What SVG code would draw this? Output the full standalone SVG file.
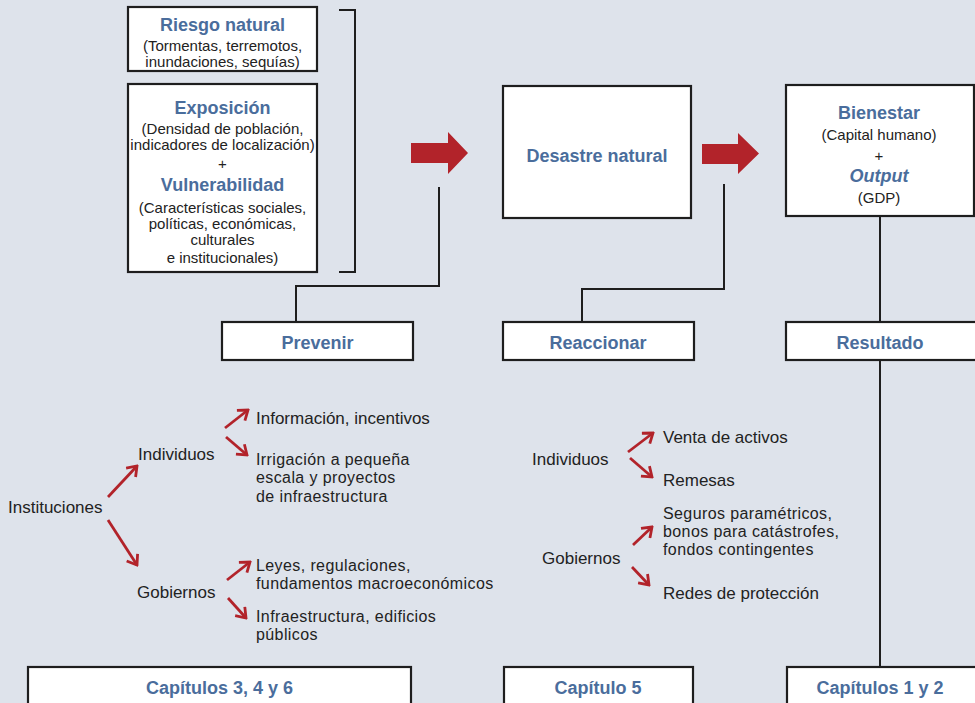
<svg xmlns="http://www.w3.org/2000/svg" width="975" height="703" viewBox="0 0 975 703">
<defs>
<style>
.bg{fill:#dee3eb}
.box{fill:#fff;stroke:#1e1e1e;stroke-width:2.2}
.t{font-family:"Liberation Sans",Arial,sans-serif;fill:#222}
.s{font-size:15px}
.m{font-size:17px}
.n{font-size:16px;letter-spacing:0.4px}
.h{font-family:"Liberation Sans",Arial,sans-serif;font-weight:bold;font-size:18px;fill:#4a6d9c}
.c{text-anchor:middle}
.line{fill:none;stroke:#1e1e1e;stroke-width:2}
.red{fill:#b2232a}
.ra{fill:none;stroke:#b2232a;stroke-width:2.8;marker-end:url(#ah)}
</style>
<marker id="ah" viewBox="-12 -8 14 16" refX="0" refY="0" markerWidth="14" markerHeight="16" markerUnits="userSpaceOnUse" orient="auto">
<path d="M-9,-6.5 L0,0 L-9,6.5" fill="none" stroke="#b2232a" stroke-width="2.8" stroke-linejoin="miter"/>
</marker>
</defs>
<rect class="bg" x="0" y="0" width="975" height="703"/>

<g id="connectors">
<path class="line" d="M339,10 H355 V272 H339"/>
<path class="line" d="M439,187 V286 H296 V322"/>
<path class="line" d="M724,184 V289 H582 V322"/>
<path class="line" d="M880,216 V322"/>
<path class="line" d="M880,360 V667"/>
<polygon class="red" points="411,143 448,143 448,132 468,153 448,174 448,163 411,163"/>
<polygon class="red" points="702,144 738,144 738,133 759,153.5 738,174 738,164 702,164"/>
<path class="ra" d="M108,497 L137,466"/>
<path class="ra" d="M108,520 L137,565"/>
<path class="ra" d="M225,428 L248,410"/>
<path class="ra" d="M226,437 L247,455"/>
<path class="ra" d="M227,580 L250,562"/>
<path class="ra" d="M228,598 L246,618"/>
<path class="ra" d="M628,452 L653,433"/>
<path class="ra" d="M630,458 L652,477"/>
<path class="ra" d="M633,545 L652,527"/>
<path class="ra" d="M632,567 L649,585"/>
</g>

<g id="riesgo">
<rect class="box" x="128" y="7" width="189" height="64"/>
<text class="h c" x="222.5" y="31">Riesgo natural</text>
<text class="t s c" x="222.5" y="51">(Tormentas, terremotos,</text>
<text class="t s c" x="222.5" y="67">inundaciones, sequías)</text>
</g>

<g id="exposicion">
<rect class="box" x="128" y="84" width="189" height="188"/>
<text class="h c" x="222.5" y="114">Exposición</text>
<text class="t s c" x="222.5" y="134">(Densidad de población,</text>
<text class="t s c" x="222.5" y="150">indicadores de localización)</text>
<text class="t s c" x="222.5" y="169">+</text>
<text class="h c" x="222.5" y="191">Vulnerabilidad</text>
<text class="t s c" x="222.5" y="213">(Características sociales,</text>
<text class="t s c" x="222.5" y="229">políticas, económicas,</text>
<text class="t s c" x="222.5" y="245">culturales</text>
<text class="t s c" x="222.5" y="263">e institucionales)</text>
</g>

<g id="desastre">
<rect class="box" x="503" y="86" width="188" height="132"/>
<text class="h c" x="597" y="162">Desastre natural</text>
</g>

<g id="bienestar">
<rect class="box" x="786" y="85" width="188" height="131"/>
<text class="h c" x="879" y="119">Bienestar</text>
<text class="t s c" x="879" y="140">(Capital humano)</text>
<text class="t s c" x="879" y="161">+</text>
<text class="h c" x="879" y="182" font-style="italic">Output</text>
<text class="t s c" x="879" y="203">(GDP)</text>
</g>

<g id="prevenir">
<rect class="box" x="222" y="322" width="191" height="38"/>
<text class="h c" x="317.5" y="349">Prevenir</text>
</g>

<g id="reaccionar">
<rect class="box" x="503" y="322" width="191" height="38"/>
<text class="h c" x="598" y="349">Reaccionar</text>
</g>

<g id="resultado">
<rect class="box" x="786" y="322" width="200" height="38"/>
<text class="h c" x="880" y="349">Resultado</text>
</g>

<g id="prevenir-detalle">
<text class="t m" x="8" y="513">Instituciones</text>
<text class="t m" x="138" y="460">Individuos</text>
<text class="t m" x="137" y="598">Gobiernos</text>
<text class="t m" x="256" y="424">Información, incentivos</text>
<text class="t n" x="256" y="465">Irrigación a pequeña</text>
<text class="t n" x="256" y="483">escala y proyectos</text>
<text class="t n" x="256" y="502">de infraestructura</text>
<text class="t n" x="256" y="571">Leyes, regulaciones,</text>
<text class="t n" x="256" y="589">fundamentos macroeconómicos</text>
<text class="t n" x="256" y="622">Infraestructura, edificios</text>
<text class="t n" x="256" y="640">públicos</text>
</g>

<g id="reaccionar-detalle">
<text class="t m" x="532" y="465">Individuos</text>
<text class="t m" x="542" y="564">Gobiernos</text>
<text class="t m" x="663" y="443">Venta de activos</text>
<text class="t m" x="663" y="486">Remesas</text>
<text class="t n" x="663" y="519">Seguros paramétricos,</text>
<text class="t n" x="663" y="537">bonos para catástrofes,</text>
<text class="t n" x="663" y="555">fondos contingentes</text>
<text class="t m" x="663" y="599">Redes de protección</text>
</g>

<g id="cap346">
<rect class="box" x="28" y="667" width="383" height="45"/>
<text class="h c" x="219.5" y="694">Capítulos 3, 4 y 6</text>
</g>

<g id="cap5">
<rect class="box" x="504" y="667" width="189" height="45"/>
<text class="h c" x="598" y="694">Capítulo 5</text>
</g>

<g id="cap12">
<rect class="box" x="787" y="667" width="200" height="45"/>
<text class="h c" x="880" y="694">Capítulos 1 y 2</text>
</g>
</svg>
